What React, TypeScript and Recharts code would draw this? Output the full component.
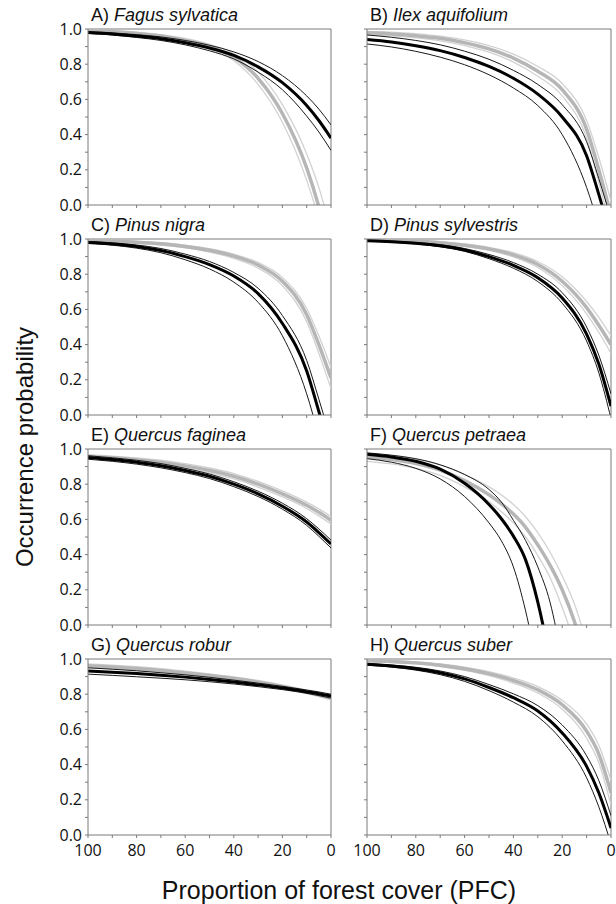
import React from 'react';
import { LineChart, Line, XAxis, YAxis, ReferenceLine } from 'recharts';

// proportion of forest cover (100 -> 0)
const pfc = [100, 90, 80, 70, 60, 50, 40, 30, 20, 10, 5, 0];
const pfcPetraea = [100, 90, 80, 70, 60, 50, 45, 40, 35, 30, 25, 20, 15, 10];

const xTicks = [0, 10, 20, 30, 40, 50, 60, 70, 80, 90, 100];
const yTicks = [0, 0.1, 0.2, 0.3, 0.4, 0.5, 0.6, 0.7, 0.8, 0.9, 1];

// A) Fagus sylvatica
const fagusMean = [0.98, 0.972, 0.96, 0.945, 0.922, 0.892, 0.85, 0.785, 0.695, 0.565, 0.48, 0.38];
const fagusUpper = [0.985, 0.978, 0.968, 0.955, 0.935, 0.908, 0.87, 0.815, 0.735, 0.62, 0.545, 0.455];
const fagusLower = [0.975, 0.966, 0.952, 0.935, 0.91, 0.876, 0.83, 0.755, 0.655, 0.505, 0.415, 0.31];
const fagusGrey = [0.99, 0.985, 0.975, 0.96, 0.935, 0.9, 0.84, 0.72, 0.52, 0.21, -0.01, -0.28];
const fagusGreyUpper = [0.995, 0.99, 0.982, 0.968, 0.946, 0.913, 0.86, 0.755, 0.57, 0.29, 0.1, -0.15];
const fagusGreyLower = [0.985, 0.978, 0.966, 0.95, 0.923, 0.885, 0.82, 0.685, 0.47, 0.14, -0.08, -0.35];

// B) Ilex aquifolium
const ilexMean = [0.94, 0.926, 0.905, 0.877, 0.838, 0.787, 0.72, 0.63, 0.5, 0.28, 0.06, -0.18];
const ilexUpper = [0.966, 0.953, 0.935, 0.91, 0.874, 0.828, 0.765, 0.685, 0.57, 0.36, 0.15, -0.08];
const ilexLower = [0.915, 0.898, 0.873, 0.84, 0.797, 0.74, 0.665, 0.565, 0.4, 0.1, -0.12, -0.38];
const ilexGrey = [0.978, 0.972, 0.962, 0.947, 0.922, 0.887, 0.835, 0.76, 0.655, 0.43, 0.2, -0.06];
const ilexGreyUpper = [0.987, 0.982, 0.973, 0.96, 0.938, 0.905, 0.857, 0.787, 0.69, 0.48, 0.27, 0.02];
const ilexGreyLower = [0.968, 0.961, 0.95, 0.933, 0.906, 0.868, 0.812, 0.732, 0.62, 0.38, 0.13, -0.14];

// C) Pinus nigra
const nigraMean = [0.98, 0.972, 0.958, 0.935, 0.9, 0.855, 0.79, 0.69, 0.52, 0.25, 0.02, -0.22];
const nigraUpper = [0.985, 0.978, 0.966, 0.946, 0.914, 0.872, 0.81, 0.72, 0.565, 0.31, 0.09, -0.14];
const nigraLower = [0.975, 0.965, 0.948, 0.922, 0.882, 0.83, 0.755, 0.64, 0.45, 0.12, -0.12, -0.38];
const nigraGrey = [0.99, 0.987, 0.982, 0.973, 0.958, 0.936, 0.903, 0.852, 0.76, 0.57, 0.4, 0.21];
const nigraGreyUpper = [0.994, 0.991, 0.987, 0.979, 0.965, 0.945, 0.914, 0.867, 0.782, 0.605, 0.45, 0.27];
const nigraGreyLower = [0.986, 0.982, 0.976, 0.966, 0.95, 0.926, 0.89, 0.835, 0.735, 0.53, 0.35, 0.15];

// D) Pinus sylvestris
const sylvMean = [0.99, 0.985, 0.976, 0.962, 0.938, 0.9, 0.85, 0.78, 0.665, 0.46, 0.29, 0.05];
const sylvUpper = [0.992, 0.988, 0.98, 0.968, 0.946, 0.912, 0.866, 0.8, 0.695, 0.5, 0.34, 0.12];
const sylvLower = [0.988, 0.982, 0.972, 0.956, 0.93, 0.888, 0.834, 0.758, 0.635, 0.42, 0.24, -0.02];
const sylvGrey = [0.995, 0.992, 0.987, 0.979, 0.965, 0.944, 0.91, 0.855, 0.76, 0.61, 0.51, 0.4];
const sylvGreyUpper = [0.997, 0.995, 0.991, 0.984, 0.972, 0.953, 0.922, 0.872, 0.785, 0.645, 0.555, 0.45];
const sylvGreyLower = [0.993, 0.989, 0.983, 0.973, 0.958, 0.935, 0.898, 0.838, 0.735, 0.575, 0.47, 0.35];

// E) Quercus faginea
const fagineaMean = [0.952, 0.94, 0.925, 0.905, 0.878, 0.845, 0.8, 0.745, 0.675, 0.585, 0.525, 0.46];
const fagineaUpper = [0.962, 0.95, 0.936, 0.917, 0.89, 0.858, 0.814, 0.76, 0.692, 0.604, 0.546, 0.482];
const fagineaLower = [0.942, 0.93, 0.914, 0.893, 0.866, 0.832, 0.786, 0.73, 0.658, 0.566, 0.504, 0.438];
const fagineaGrey = [0.958, 0.95, 0.939, 0.924, 0.904, 0.878, 0.845, 0.8, 0.745, 0.68, 0.64, 0.595];
const fagineaGreyUpper = [0.968, 0.96, 0.95, 0.936, 0.917, 0.892, 0.86, 0.816, 0.762, 0.698, 0.66, 0.616];
const fagineaGreyLower = [0.948, 0.94, 0.928, 0.912, 0.891, 0.864, 0.83, 0.784, 0.728, 0.662, 0.62, 0.574];

// F) Quercus petraea (uses pfcPetraea)
const petraeaMean = [0.97, 0.955, 0.93, 0.885, 0.805, 0.685, 0.605, 0.505, 0.37, 0.13, -0.2, -0.6, -1.0, -1.4];
const petraeaUpper = [0.978, 0.965, 0.945, 0.91, 0.855, 0.77, 0.7, 0.595, 0.48, 0.33, 0.13, -0.2, -0.6, -1.0];
const petraeaLower = [0.945, 0.925, 0.89, 0.83, 0.73, 0.58, 0.48, 0.33, 0.08, -0.25, -0.6, -1.0, -1.4, -1.8];
const petraeaGrey = [0.955, 0.94, 0.918, 0.88, 0.82, 0.74, 0.69, 0.63, 0.555, 0.455, 0.34, 0.2, 0.02, -0.22];
const petraeaGreyUpper = [0.975, 0.962, 0.943, 0.91, 0.856, 0.785, 0.74, 0.685, 0.615, 0.525, 0.415, 0.28, 0.12, -0.1];
const petraeaGreyLower = [0.93, 0.915, 0.89, 0.85, 0.785, 0.7, 0.645, 0.58, 0.5, 0.395, 0.27, 0.1, -0.1, -0.35];

// G) Quercus robur
const roburMean = [0.932, 0.925, 0.917, 0.908, 0.897, 0.884, 0.869, 0.853, 0.835, 0.814, 0.803, 0.79];
const roburUpper = [0.95, 0.942, 0.933, 0.922, 0.91, 0.896, 0.88, 0.863, 0.845, 0.824, 0.813, 0.8];
const roburLower = [0.914, 0.907, 0.899, 0.891, 0.882, 0.871, 0.858, 0.843, 0.826, 0.805, 0.792, 0.778];
const roburGrey = [0.962, 0.955, 0.946, 0.935, 0.921, 0.906, 0.889, 0.868, 0.843, 0.813, 0.796, 0.778];
const roburGreyUpper = [0.972, 0.965, 0.956, 0.945, 0.931, 0.916, 0.899, 0.878, 0.853, 0.823, 0.806, 0.788];
const roburGreyLower = [0.952, 0.945, 0.936, 0.925, 0.911, 0.896, 0.879, 0.858, 0.833, 0.803, 0.786, 0.768];

// H) Quercus suber
const suberMean = [0.97, 0.96, 0.945, 0.922, 0.887, 0.838, 0.78, 0.705, 0.58, 0.39, 0.24, 0.04];
const suberUpper = [0.975, 0.966, 0.953, 0.932, 0.9, 0.855, 0.802, 0.735, 0.625, 0.45, 0.31, 0.11];
const suberLower = [0.965, 0.954, 0.937, 0.911, 0.873, 0.82, 0.755, 0.672, 0.535, 0.325, 0.16, -0.05];
const suberGrey = [0.99, 0.986, 0.978, 0.965, 0.945, 0.917, 0.878, 0.825, 0.74, 0.59, 0.46, 0.24];
const suberGreyUpper = [0.994, 0.99, 0.984, 0.972, 0.954, 0.928, 0.892, 0.843, 0.765, 0.63, 0.51, 0.31];
const suberGreyLower = [0.986, 0.981, 0.972, 0.957, 0.935, 0.905, 0.863, 0.806, 0.715, 0.55, 0.41, 0.17];

const panels = [
  { letter: 'A', species: 'Fagus sylvatica', x: pfc, s: [fagusMean, fagusUpper, fagusLower, fagusGrey, fagusGreyUpper, fagusGreyLower] },
  { letter: 'B', species: 'Ilex aquifolium', x: pfc, s: [ilexMean, ilexUpper, ilexLower, ilexGrey, ilexGreyUpper, ilexGreyLower] },
  { letter: 'C', species: 'Pinus nigra', x: pfc, s: [nigraMean, nigraUpper, nigraLower, nigraGrey, nigraGreyUpper, nigraGreyLower] },
  { letter: 'D', species: 'Pinus sylvestris', x: pfc, s: [sylvMean, sylvUpper, sylvLower, sylvGrey, sylvGreyUpper, sylvGreyLower] },
  { letter: 'E', species: 'Quercus faginea', x: pfc, s: [fagineaMean, fagineaUpper, fagineaLower, fagineaGrey, fagineaGreyUpper, fagineaGreyLower] },
  { letter: 'F', species: 'Quercus petraea', x: pfcPetraea, s: [petraeaMean, petraeaUpper, petraeaLower, petraeaGrey, petraeaGreyUpper, petraeaGreyLower] },
  { letter: 'G', species: 'Quercus robur', x: pfc, s: [roburMean, roburUpper, roburLower, roburGrey, roburGreyUpper, roburGreyLower] },
  { letter: 'H', species: 'Quercus suber', x: pfc, s: [suberMean, suberUpper, suberLower, suberGrey, suberGreyUpper, suberGreyLower] },
];

const AXIS = '#7a7a7a';
const rowTops = [29, 239, 449, 659];
const PLOT_H = 176;
const tickFont = { fill: '#111', fontSize: 16, fontFamily: '"Open Sans", sans-serif' };

function Panel({ p, index }: { p: any; index: number }) {
  const left = index % 2 === 0;
  const row = Math.floor(index / 2);
  const bottom = row === 3;
  const xh = bottom ? 40 : 12;
  const top = rowTops[row];
  const plotLeft = left ? 88 : 367;
  const data = p.x.map((x: number, i: number) => ({
    x,
    mean: p.s[0][i],
    upper: p.s[1][i],
    lower: p.s[2][i],
    grey: p.s[3][i],
    greyUpper: p.s[4][i],
    greyLower: p.s[5][i],
  }));

  return (
    <>
      <div
        style={{
          position: 'absolute',
          left: plotLeft + 3,
          top: top - 23,
          fontFamily: '"Liberation Sans", Arial, sans-serif',
          fontSize: 18,
          lineHeight: '18px',
          whiteSpace: 'nowrap',
          color: '#111',
        }}
      >
        {p.letter}) <i>{p.species}</i>
      </div>
      <div style={{ position: 'absolute', left: left ? 0 : 340, top: top - 10 }}>
        <LineChart
          width={left ? 340 : 276}
          height={10 + PLOT_H + xh}
          data={data}
          margin={{ top: 10, right: left ? 9 : 5, bottom: 0, left: left ? 28 : 17 }}
        >
          <XAxis
            dataKey="x"
            type="number"
            domain={[0, 100]}
            reversed
            allowDataOverflow
            ticks={xTicks}
            interval={0}
            tickFormatter={(v: number) => (bottom && v % 20 === 0 ? String(v) : '')}
            tickSize={3}
            tickMargin={7}
            height={xh}
            stroke={AXIS}
            tick={tickFont}
          />
          <YAxis
            type="number"
            domain={[0, 1]}
            allowDataOverflow
            ticks={yTicks}
            interval={0}
            tickFormatter={(v: number) => (left && Math.round(v * 10) % 2 === 0 ? v.toFixed(1) : '')}
            width={left ? 60 : 10}
            tickSize={3}
            tickMargin={3}
            stroke={AXIS}
            tick={tickFont}
          />
          <ReferenceLine y={1} stroke={AXIS} />
          <ReferenceLine x={0} stroke={AXIS} />
          <Line type="monotone" dataKey="greyLower" stroke="#d2d2d2" strokeWidth={1.3} dot={false} activeDot={false} isAnimationActive={false} />
          <Line type="monotone" dataKey="greyUpper" stroke="#d2d2d2" strokeWidth={1.3} dot={false} activeDot={false} isAnimationActive={false} />
          <Line type="monotone" dataKey="grey" stroke="#b6b6b6" strokeWidth={3.5} dot={false} activeDot={false} isAnimationActive={false} />
          <Line type="monotone" dataKey="lower" stroke="#1a1a1a" strokeWidth={1} dot={false} activeDot={false} isAnimationActive={false} />
          <Line type="monotone" dataKey="upper" stroke="#1a1a1a" strokeWidth={1} dot={false} activeDot={false} isAnimationActive={false} />
          <Line type="monotone" dataKey="mean" stroke="#000" strokeWidth={3} dot={false} activeDot={false} isAnimationActive={false} />
        </LineChart>
      </div>
    </>
  );
}

export default function App() {
  return (
    <div style={{ position: 'absolute', left: 0, top: 0, width: 616, height: 904, background: '#fff' }}>
      {panels.map((p, i) => (
        <Panel key={p.letter} p={p} index={i} />
      ))}
      <div
        style={{
          position: 'absolute',
          left: 25,
          top: 447,
          transform: 'translate(-50%, -50%) rotate(-90deg)',
          fontFamily: '"Liberation Sans", Arial, sans-serif',
          fontSize: 24,
          whiteSpace: 'nowrap',
          color: '#111',
        }}
      >
        Occurrence probability
      </div>
      <div
        style={{
          position: 'absolute',
          left: 339,
          top: 878,
          transform: 'translateX(-50%)',
          fontFamily: '"Liberation Sans", Arial, sans-serif',
          fontSize: 25,
          lineHeight: '25px',
          whiteSpace: 'nowrap',
          color: '#111',
        }}
      >
        Proportion of forest cover (PFC)
      </div>
    </div>
  );
}
